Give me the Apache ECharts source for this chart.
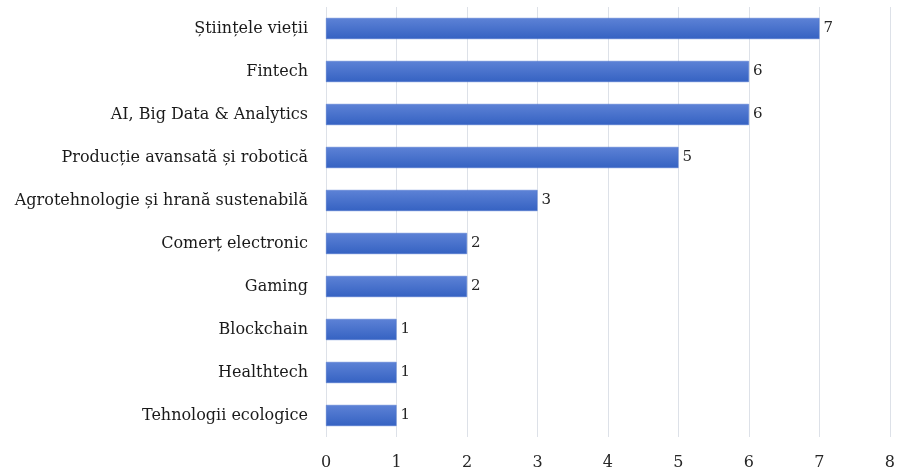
<!DOCTYPE html>
<html>
<head>
<meta charset="utf-8">
<script src="https://cdn.jsdelivr.net/npm/echarts@6/dist/echarts.min.js"></script>
<style>
  html, body { margin: 0; padding: 0; background: #fff; }
  #chart { width: 898px; height: 472px; }
</style>
</head>
<body>
<div id="chart"></div>
<script>
// Startups by domain (top to bottom as drawn)
const categories = [
  "Științele vieții",
  "Fintech",
  "AI, Big Data & Analytics",
  "Producție avansată și robotică",
  "Agrotehnologie și hrană sustenabilă",
  "Comerț electronic",
  "Gaming",
  "Blockchain",
  "Healthtech",
  "Tehnologii ecologice"
];
const counts = [7, 6, 6, 5, 3, 2, 2, 1, 1, 1];
const axisMax = 8;

const serif = '"DejaVu Serif", "Liberation Serif", serif';
const chart = echarts.init(document.getElementById('chart'), null, { renderer: 'canvas' });

chart.setOption({
  animation: false,
  grid: { left: 326, right: 6, top: 7, bottom: 35, containLabel: false },
  xAxis: {
    type: 'value',
    min: 0,
    max: axisMax,
    interval: 1,
    axisLine: { show: false },
    axisTick: { show: false },
    splitLine: { show: true, lineStyle: { color: '#dde1e8', width: 1 } },
    axisLabel: { color: '#262626', fontFamily: serif, fontSize: 16, margin: 18 }
  },
  yAxis: {
    type: 'category',
    data: categories,
    inverse: true,
    axisLine: { show: false },
    axisTick: { show: false },
    axisLabel: { color: '#1a1a1a', fontFamily: serif, fontSize: 16, margin: 18 }
  },
  series: [{
    type: 'bar',
    data: counts,
    barCategoryGap: '51%',
    itemStyle: {
      color: new echarts.graphic.LinearGradient(0, 0, 0, 1, [
        { offset: 0, color: '#5d82d6' },
        { offset: 1, color: '#3562c2' }
      ]),
      borderColor: '#4a72cc',
      borderWidth: 0.5
    },
    label: {
      show: true,
      position: 'right',
      distance: 4,
      color: '#262626',
      fontFamily: serif,
      fontSize: 15
    }
  }]
});
</script>
</body>
</html>
